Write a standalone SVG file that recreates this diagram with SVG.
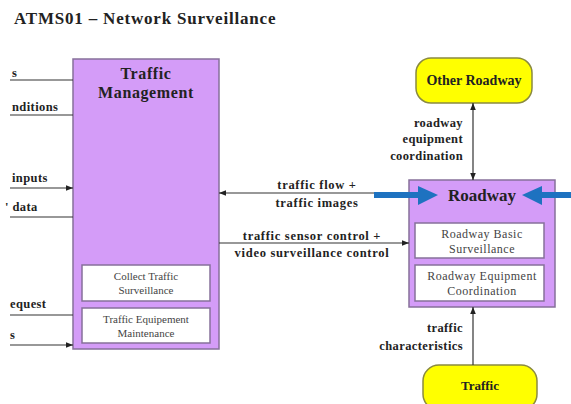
<svg xmlns="http://www.w3.org/2000/svg" width="571" height="404" viewBox="0 0 571 404">
<defs>
<style>
text{font-family:'Liberation Serif','DejaVu Serif','Times New Roman',serif;}
.t{font-weight:bold;fill:#222;}
.lbl{font-size:12.5px;letter-spacing:0.4px;}
.fl{letter-spacing:0.7px;}
.sub{font-size:11px;fill:#444;text-anchor:middle;}
.sub2{font-size:12px;fill:#444;text-anchor:middle;letter-spacing:0.5px;}
.box{fill:#d49cf8;stroke:#86709a;stroke-width:1.5;}
.inner{fill:#fff;stroke:#86709a;stroke-width:1.5;}
.term{fill:#ffff00;stroke:#8a8a40;stroke-width:1.5;}
.ln{stroke:#333;stroke-width:1.2;fill:none;}
.blue{stroke:#1e72c0;stroke-width:6;fill:none;}
</style>
<marker id="ah" viewBox="0 0 10 10" refX="10" refY="5" markerWidth="7" markerHeight="7" orient="auto-start-reverse" markerUnits="userSpaceOnUse"><path d="M0,1 L10,5 L0,9 Z" fill="#222"/></marker>
</defs>
<rect width="571" height="404" fill="#fff"/>
<text class="t" x="14" y="24" font-size="17" letter-spacing="0.8">ATMS01 – Network Surveillance</text>

<g id="traffic-management">
<rect class="box" x="73" y="59" width="146" height="290"/>
<text class="t" x="146" y="79" font-size="16" letter-spacing="0.6" text-anchor="middle">Traffic</text>
<text class="t" x="146" y="98" font-size="16" letter-spacing="0.6" text-anchor="middle">Management</text>
<g id="collect-traffic-surveillance">
<rect class="inner" x="82" y="265" width="128" height="36"/>
<text class="sub" x="146" y="280">Collect Traffic</text>
<text class="sub" x="146" y="294">Surveillance</text>
</g>
<g id="traffic-equipment-maintenance">
<rect class="inner" x="82" y="308" width="128" height="35"/>
<text class="sub" x="146" y="323">Traffic Equipement</text>
<text class="sub" x="146" y="337">Maintenance</text>
</g>
</g>

<g id="roadway">
<rect class="box" x="409" y="180" width="146" height="127"/>
<text class="t" x="482" y="201" font-size="17" text-anchor="middle">Roadway</text>
<g id="roadway-basic-surveillance">
<rect class="inner" x="415" y="223" width="129" height="35"/>
<text class="sub2" x="482" y="238">Roadway Basic</text>
<text class="sub2" x="482" y="253">Surveillance</text>
</g>
<g id="roadway-equipment-coordination">
<rect class="inner" x="415" y="265" width="129" height="36"/>
<text class="sub2" x="482" y="280">Roadway Equipment</text>
<text class="sub2" x="482" y="295">Coordination</text>
</g>
</g>

<g id="other-roadway">
<rect class="term" x="416" y="58" width="116" height="45" rx="15"/>
<text class="t" x="474" y="85" font-size="14" text-anchor="middle">Other Roadway</text>
</g>

<g id="traffic">
<rect class="term" x="423" y="365" width="114" height="45" rx="16"/>
<text class="t" x="480" y="390" font-size="13" text-anchor="middle">Traffic</text>
</g>

<g id="connectors">
<line class="ln" x1="10" y1="80" x2="73" y2="80"/>
<line class="ln" x1="10" y1="115" x2="73" y2="115"/>
<line class="ln" x1="10" y1="188" x2="73" y2="188" marker-end="url(#ah)"/>
<line class="ln" x1="10" y1="217" x2="73" y2="217"/>
<line class="ln" x1="10" y1="315" x2="73" y2="315"/>
<line class="ln" x1="10" y1="345" x2="73" y2="345" marker-end="url(#ah)"/>
<line class="ln" x1="376" y1="193" x2="219" y2="193" marker-end="url(#ah)"/>
<line class="ln" x1="219" y1="243" x2="409" y2="243" marker-end="url(#ah)"/>
<line class="ln" x1="473" y1="103" x2="473" y2="180" marker-start="url(#ah)" marker-end="url(#ah)"/>
<line class="ln" x1="473" y1="365" x2="473" y2="307" marker-end="url(#ah)"/>

<text class="t lbl" x="12" y="77">s</text>
<text class="t lbl" x="12" y="111">nditions</text>
<text class="t lbl" x="12" y="182">inputs</text>
<text class="t lbl" x="5" y="211">' data</text>
<text class="t lbl" x="10" y="308">equest</text>
<text class="t lbl" x="10" y="339">s</text>

<text class="t lbl fl" x="317" y="189" text-anchor="middle">traffic flow +</text>
<text class="t lbl fl" x="317" y="207" text-anchor="middle">traffic images</text>
<text class="t lbl fl" x="312" y="240" text-anchor="middle">traffic sensor control +</text>
<text class="t lbl fl" x="312" y="257" text-anchor="middle">video surveillance control</text>

<text class="t lbl" x="463" y="127" text-anchor="end">roadway</text>
<text class="t lbl" x="463" y="143" text-anchor="end">equipment</text>
<text class="t lbl" x="463" y="160" text-anchor="end">coordination</text>

<text class="t lbl" x="463" y="332" text-anchor="end">traffic</text>
<text class="t lbl" x="463" y="350" text-anchor="end">characteristics</text>

<line class="blue" x1="374" y1="195" x2="422" y2="195"/>
<path d="M418,186 L438,195 L418,205 Z" fill="#1e72c0"/>
<line class="blue" x1="571" y1="195" x2="538" y2="195"/>
<path d="M542,186 L522,195 L542,205 Z" fill="#1e72c0"/>
</g>
</svg>
